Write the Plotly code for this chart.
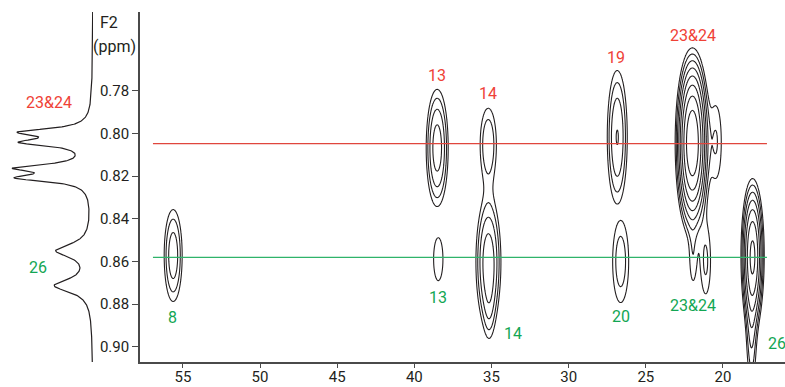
import numpy as np
import plotly.graph_objects as go

# ---- 2D spectrum: cross peaks (F1 13C ppm, F2 1H ppm, height, F1 sd, F2 sd)
# peaks sharing a group id are summed and contoured together
peak_group = [0, 1, 2, 3, 3, 3, 4, 5, 6, 6, 6, 6, 7, 7]
peak_f1 = [55.63, 38.52, 38.45, 35.21, 35.20, 35.15, 26.85, 26.63,
           21.98, 20.45, 21.95, 21.12, 18.08, 18.15]
peak_f2 = [0.8572, 0.8068, 0.8589, 0.8051, 0.8601, 0.8800, 0.8018, 0.8600,
           0.8045, 0.8040, 0.8595, 0.8600, 0.8572, 0.8900]
peak_height = [3.32, 4.95, 1.35, 2.34, 5.2, 1.2, 3.92, 2.05,
               35.5, 1.6, 1.3, 1.71, 16.1, 2.5]
peak_sd_f1 = [0.376, 0.3985, 0.39, 0.40, 0.446, 0.25, 0.392, 0.433,
              0.419, 0.35, 0.22, 0.30, 0.32, 0.22]
peak_sd_f2 = [0.0139, 0.01535, 0.013, 0.01296, 0.01668, 0.012, 0.01893, 0.01607,
              0.01669, 0.017, 0.0118, 0.0146, 0.01527, 0.020]

# ---- 1D proton projection (Lorentzian lines)
proj_center = [0.7994, 0.8042, 0.8162, 0.8209, 0.8549, 0.8713]
proj_height = [0.698, 0.670, 0.726, 0.713, 0.375, 0.395]
proj_hwhm = [0.0020, 0.0020, 0.0020, 0.0020, 0.0038, 0.0038]

# ---- reference lines through the methyl signals
ref_f2 = [0.8048, 0.8581]
ref_f1_span = [56.94, 17.15]

# ---- assignment labels
red_labels = ["13", "14", "19", "23&24"]
red_x = [38.54, 35.23, 26.93, 21.94]
red_y = [0.7727, 0.7812, 0.7643, 0.7539]
green_labels = ["8", "13", "14", "20", "23&24", "26"]
green_x = [55.65, 38.47, 33.61, 26.61, 21.94, 16.50]
green_y = [0.8863, 0.8769, 0.8938, 0.8859, 0.8805, 0.8985]

f1_ticks = [55, 50, 45, 40, 35, 30, 25, 20]
f2_ticks = [0.78, 0.80, 0.82, 0.84, 0.86, 0.88, 0.90]
F1_RANGE = [57.78, 15.98]
F2_RANGE = [0.9071, 0.7431]

RED = "#ef4136"
GREEN = "#13a653"
INK = "#231f20"
FONT = "Roboto, Liberation Sans, sans-serif"

W, H = 785, 387
AX_LEFT = 140
BASE_1D = 93

fig = go.Figure()

# one contour trace per peak group, contoured on log intensity (geometric levels)
p = list(zip(peak_group, peak_f1, peak_f2, peak_height, peak_sd_f1, peak_sd_f2))
for g in sorted(set(peak_group)):
    members = [q[1:] for q in p if q[0] == g]
    x_lo = min(m[0] - 4.5 * m[3] for m in members)
    x_hi = max(m[0] + 4.5 * m[3] for m in members)
    y_lo = min(m[1] - 4.5 * m[4] for m in members)
    y_hi = max(m[1] + 4.5 * m[4] for m in members)
    gx = np.arange(x_lo, x_hi, 0.03)
    gy = np.arange(y_lo, y_hi, 0.0004)
    XX, YY = np.meshgrid(gx, gy)
    S = np.zeros_like(XX)
    for x0, y0, a, sx, sy in members:
        S += a * np.exp(-0.5 * (((XX - x0) / sx) ** 2 + ((YY - y0) / sy) ** 2))
    Z = np.maximum(np.log(S + 1e-12), -3.0).astype(np.float32)
    fig.add_trace(go.Contour(
        x=gx, y=gy, z=Z, autocontour=False,
        contours=dict(start=0.0, end=4.0, size=0.45, coloring="none"),
        line=dict(color=INK, width=1.1, smoothing=1),
        showscale=False, hoverinfo="skip",
    ))

# horizontal reference lines
for yv, col in zip(ref_f2, ["#e0463d", "#2fb36a"]):
    fig.add_trace(go.Scatter(x=ref_f1_span, y=[yv, yv], mode="lines",
                             line=dict(color=col, width=1.3), hoverinfo="skip"))

# 1D projection on the left
py = np.arange(F2_RANGE[1], F2_RANGE[0] + 1e-9, 0.0002)
px = np.zeros_like(py)
for c, h, w in zip(proj_center, proj_height, proj_hwhm):
    px += h / (1 + ((py - c) / w) ** 2)
fig.add_trace(go.Scatter(x=px, y=py, xaxis="x2", yaxis="y", mode="lines",
                         line=dict(color=INK, width=1.2), hoverinfo="skip"))

annotations = []
for t, x, y in zip(red_labels, red_x, red_y):
    annotations.append(dict(text=t, x=x, y=y, xref="x", yref="y", showarrow=False,
                            font=dict(color=RED, size=16, family=FONT)))
for t, x, y in zip(green_labels, green_x, green_y):
    annotations.append(dict(text=t, x=x, y=y, xref="x", yref="y", showarrow=False,
                            font=dict(color=GREEN, size=16, family=FONT)))
# projection labels
annotations.append(dict(text="23&24", x=1 - 49 / BASE_1D, y=0.7855, xref="x2", yref="y",
                        showarrow=False, font=dict(color=RED, size=16, family=FONT)))
annotations.append(dict(text="26", x=1 - 38 / BASE_1D, y=0.8627, xref="x2", yref="y",
                        showarrow=False, font=dict(color=GREEN, size=16, family=FONT)))
# F2 axis title
annotations.append(dict(text="F2", x=98 / W, y=(362 - 22) / 350, xref="paper", yref="paper",
                        xanchor="left", yanchor="middle", showarrow=False,
                        font=dict(color=INK, size=16, family=FONT)))
annotations.append(dict(text="(ppm)", x=138 / W, y=(362 - 46) / 350, xref="paper", yref="paper",
                        xanchor="right", yanchor="middle", showarrow=False,
                        font=dict(color=INK, size=16, family=FONT)))

fig.update_layout(
    width=W, height=H,
    margin=dict(l=0, r=0, t=12, b=25),
    paper_bgcolor="white", plot_bgcolor="white",
    showlegend=False,
    template="none",
    font=dict(family=FONT, size=15, color=INK),
    annotations=annotations,
    xaxis=dict(domain=[AX_LEFT / W, 1], range=F1_RANGE, showgrid=False, zeroline=False,
               showline=True, linecolor="#4a4a4a", linewidth=1.6,
               ticks="outside", ticklen=4, tickwidth=1.2, tickcolor="#4a4a4a",
               ticklabelstandoff=-4,
               tickvals=f1_ticks, ticktext=[str(v) for v in f1_ticks],
               tickfont=dict(size=15, family=FONT, color=INK), automargin=False),
    yaxis=dict(range=F2_RANGE, showgrid=False, zeroline=False,
               showline=True, linecolor="#4a4a4a", linewidth=1.6,
               ticks="outside", ticklen=6, tickwidth=1.2, tickcolor="#4a4a4a",
               tickvals=f2_ticks, ticktext=[f"{v:.2f}" for v in f2_ticks],
               tickfont=dict(size=15, family=FONT, color=INK), automargin=False),
    xaxis2=dict(domain=[0, BASE_1D / W], range=[1.0, 0.0], anchor="y",
                visible=False, showgrid=False, zeroline=False),
)

fig.write_html("out.html")
